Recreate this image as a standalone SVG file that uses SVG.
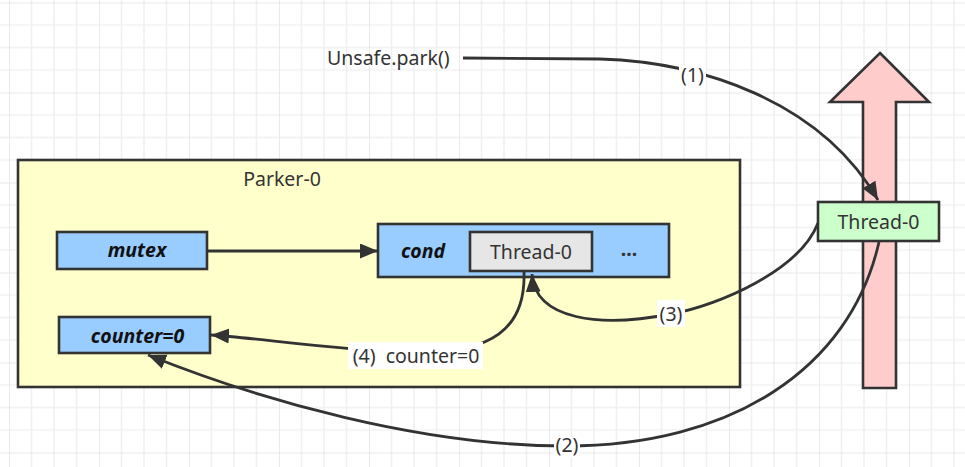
<svg xmlns="http://www.w3.org/2000/svg" width="965" height="467" viewBox="0 0 965 467">
<style>
text{font-family:"Noto Sans","Liberation Sans",sans-serif;font-size:19.5px;fill:#333333}
.bi{font-weight:bold;font-style:italic;fill:#111111}
.box{stroke:#333333;stroke-width:2.6}
.blue{fill:#99ccff}
.conn{fill:none;stroke:#333333;stroke-width:2.8}
.lbl{fill:#ffffff}
</style>
<defs>
<pattern id="grid" patternUnits="userSpaceOnUse" x="9" y="2.5" width="90" height="90">
<path d="M22.5 0V90M45 0V90M67.5 0V90M0 22.5H90M0 45H90M0 67.5H90" stroke="#f0f0f0" stroke-width="1.5" fill="none"/>
<path d="M0 0V90M0 0H90" stroke="#e3e3e3" stroke-width="1.5" fill="none"/>
</pattern>
<marker id="arr" markerUnits="userSpaceOnUse" markerWidth="22" markerHeight="18" refX="18" refY="7.5" orient="auto">
<path d="M0 0L18 7.5L0 15Z" fill="#333333"/>
</marker>
</defs>
<rect width="965" height="467" fill="#ffffff"/>
<rect width="965" height="467" fill="url(#grid)"/>

<g id="parker">
<rect class="box" x="18" y="160" width="722" height="227" fill="#ffffcc"/>
<text x="282" y="186" text-anchor="middle">Parker-0</text>
</g>

<g id="bigarrow">
<polygon class="box" points="880,53 929,102 896,102 896,388 863,388 863,102 830,102" fill="#ffcccc"/>
</g>

<g id="unsafe-park">
<text x="327" y="65">Unsafe.park()</text>
</g>

<g id="mutex">
<rect class="box blue" x="57" y="232" width="150" height="37"/>
<text class="bi" x="137" y="257" text-anchor="middle">mutex</text>
</g>

<g id="cond">
<rect class="box blue" x="378" y="224" width="291" height="53"/>
<text class="bi" x="423" y="258" text-anchor="middle">cond</text>
<text x="629" y="255.5" text-anchor="middle" font-weight="bold">...</text>
</g>

<g id="cond-thread">
<rect class="box" x="470" y="232" width="122" height="39" fill="#e6e6e6"/>
<text x="531" y="258.5" text-anchor="middle">Thread-0</text>
</g>

<g id="counter">
<rect class="box blue" x="59" y="317" width="151" height="36"/>
<text class="bi" x="137.5" y="343" text-anchor="middle">counter=0</text>
</g>

<g id="connectors">
<path class="conn" marker-end="url(#arr)" d="M207 251H378"/>
<path class="conn" marker-end="url(#arr)" d="M463 58L600 59C700 62 820 100 878 200"/>
<path class="conn" marker-end="url(#arr)" d="M879 242C850 370 730 446 566 446C420 446 260 400 148 355"/>
<path class="conn" marker-end="url(#arr)" d="M818 223C800 270 720 305 671 314C600 328 535 320 532 274"/>
<path class="conn" marker-end="url(#arr)" d="M524 272C526 330 490 352 420 353C330 350 260 338 211 335"/>
</g>

<g id="thread0">
<rect class="box" x="818" y="202" width="121" height="39" fill="#ccffcc"/>
<text x="878.5" y="228.5" text-anchor="middle">Thread-0</text>
</g>

<g id="labels">
<rect class="lbl" x="679" y="66" width="27" height="22"/>
<text x="692.5" y="82" text-anchor="middle">(1)</text>
<rect class="lbl" x="554" y="437" width="26" height="21"/>
<text x="567" y="452" text-anchor="middle">(2)</text>
<rect class="lbl" x="657" y="300" width="28" height="27"/>
<text x="671" y="320.5" text-anchor="middle">(3)</text>
<rect class="lbl" x="348" y="342" width="135" height="27"/>
<text x="416" y="362.5" text-anchor="middle">(4)&#160; counter=0</text>
</g>
</svg>
